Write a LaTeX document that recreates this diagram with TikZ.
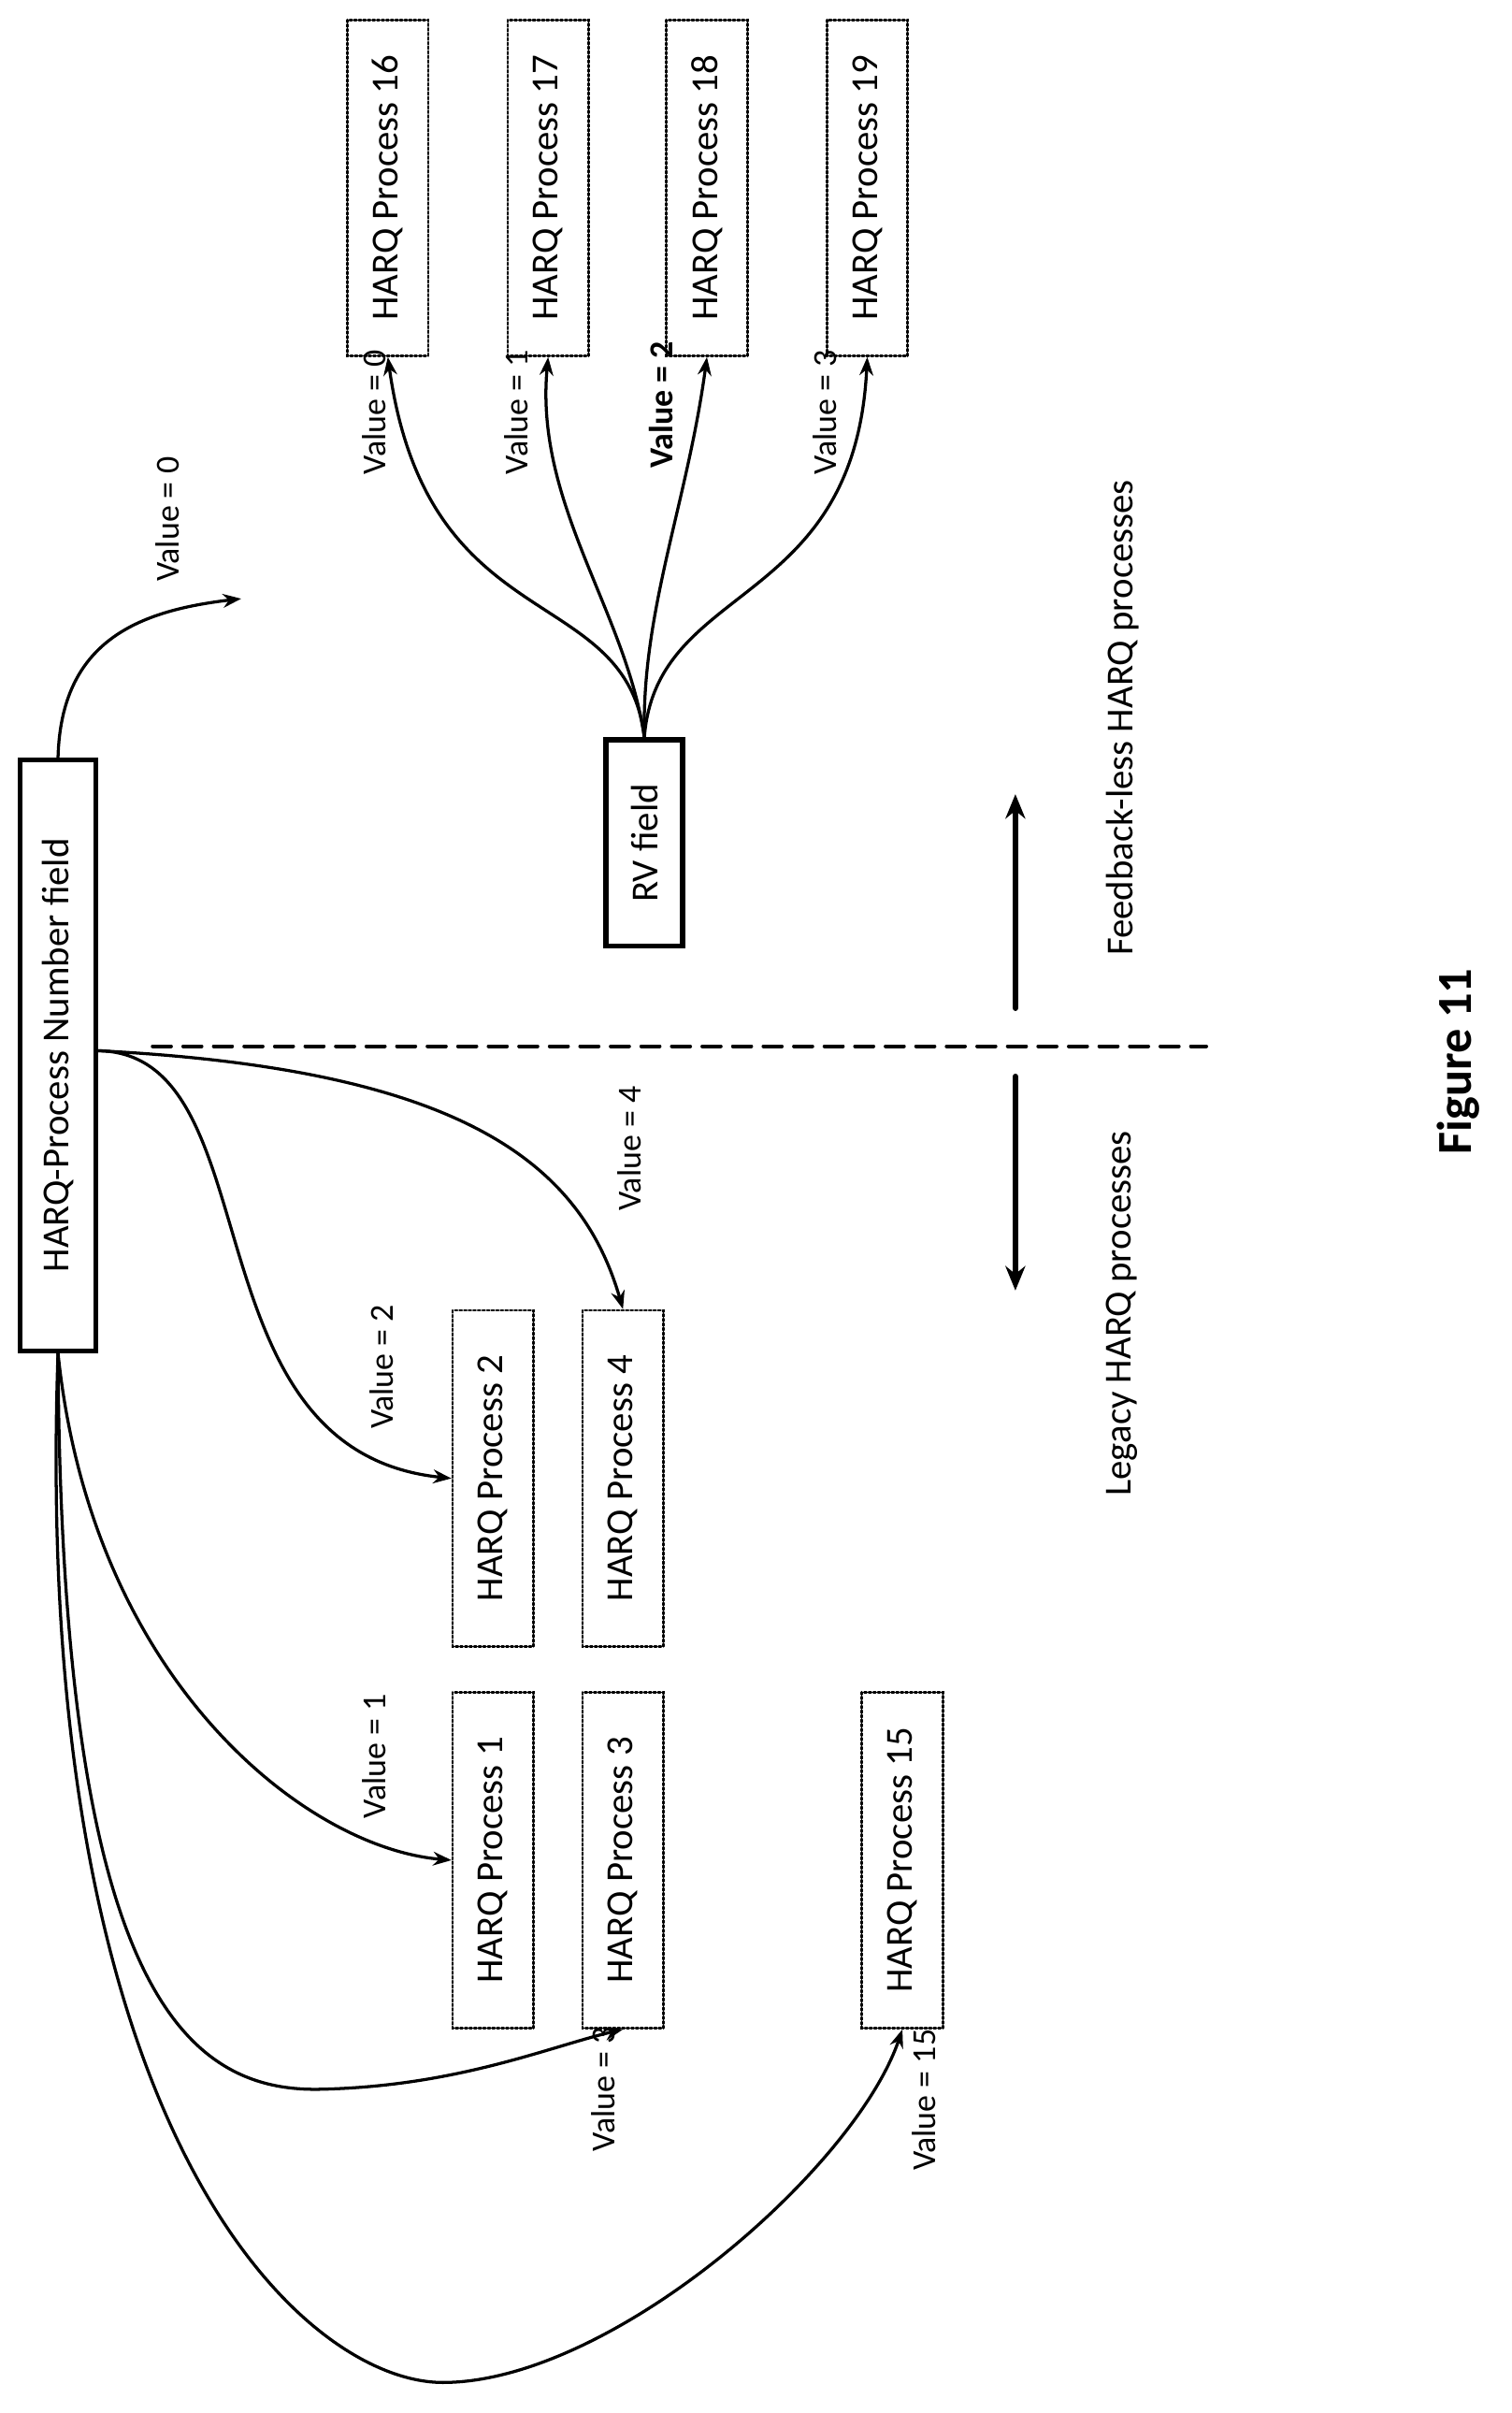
\documentclass[tikz,border=0pt]{standalone}
\usepackage{fontspec}
\setmainfont{Carlito}
\usetikzlibrary{arrows.meta,positioning}

\begin{document}
\begin{tikzpicture}[
    x=1pt,y=1pt,
    line cap=round,
    %styles
    harq/.style={draw,line width=1.6pt,dash pattern=on 1.5pt off 1.5pt,rotate=90,minimum width=220pt,minimum height=53pt,inner sep=0pt,font=\fontsize{25}{30}\selectfont},
    field/.style={draw,line width=3pt,rotate=90,minimum height=50pt,inner sep=6pt,font=\fontsize{25}{30}\selectfont},
    vlabel/.style={rotate=90,font=\fontsize{22}{26}\selectfont},
    link/.style={line width=2pt,-{Stealth[length=12pt,width=9pt]}},
  ]
  \useasboundingbox (0,0) rectangle (990,-1580);

  %fields
  \node[field,minimum width=387pt] (hpn) at (38,-691) {HARQ-Process Number field};
  \node[field,minimum width=135pt,line width=3.5pt] (rv) at (422,-552) {RV field};

  %legacy processes
  \node[harq] (p1) at (323,-1218) {HARQ Process 1};
  \node[harq] (p2) at (323,-968) {HARQ Process 2};
  \node[harq] (p3) at (408,-1218) {HARQ Process 3};
  \node[harq] (p4) at (408,-968) {HARQ Process 4};
  \node[harq] (p15) at (591,-1218) {HARQ Process 15};

  %feedback-less processes
  \foreach \n/\x in {16/254,17/359,18/463,19/568}
    \node[harq] (p\n) at (\x,-123) {HARQ Process \n};

  \coordinate (v0end) at (158,-392);
  \coordinate (hpnside) at ([yshift=3pt]hpn.south);
  \draw[link] (hpn.east) .. controls (40,-420) and (90,-400) .. (v0end);
  \draw[link] (hpnside) .. controls (180,-690) and (120,-950) .. (p2.north);
  \draw[link] (hpnside) .. controls (300,-700) and (380,-760) .. (p4.east);
  \draw[link] (hpn.west) .. controls (60,-1100) and (200,-1210) .. (p1.north);
  \draw[link] (hpn.west) .. controls (40,-1300) and (120,-1370) .. (210,-1368) .. controls (300,-1366) and (360,-1340) .. (p3.west);
  \draw[link] (hpn.west) .. controls (20,-1400) and (200,-1560) .. (290,-1560) .. controls (400,-1560) and (560,-1420) .. (p15.west);

  %RV links
  \draw[link] (rv.east) .. controls (410,-380) and (280,-420) .. (p16.west);
  \draw[link] (rv.east) .. controls (410,-400) and (350,-330) .. (p17.west);
  \draw[link] (rv.east) .. controls (420,-400) and (450,-330) .. (p18.west);
  \draw[link] (rv.east) .. controls (430,-380) and (560,-400) .. (p19.west);

  %value labels
  \node[vlabel] (l0) at (110,-340) {Value = 0};
  \node[vlabel] (l1) at (245,-1150) {Value = 1};
  \node[vlabel] (l2) at (250,-895) {Value = 2};
  \node[vlabel] (l3) at (395,-1368) {Value = 3};
  \node[vlabel] (l4) at (412,-752) {Value = 4};
  \node[vlabel] (l15) at (605,-1375) {Value = 15};
  \node[vlabel] (r0) at (245,-270) {Value = 0};
  \node[vlabel] (r1) at (338,-270) {Value = 1};
  \node[vlabel,font=\fontsize{22}{26}\selectfont\bfseries] (r2) at (433,-265) {Value = 2};
  \node[vlabel] (r3) at (540,-270) {Value = 3};

  %divider
  \coordinate (dtop) at (100,-685);
  \coordinate (dbot) at (790,-685);
  \draw[line width=2.5pt,dash pattern=on 12pt off 8pt] (dtop) -- (dbot);
  \coordinate (fa) at (665,-660);
  \coordinate (fb) at (665,-520);
  \coordinate (la) at (665,-705);
  \coordinate (lb) at (665,-845);
  \draw[line width=4pt,-{Stealth[length=16pt,width=13pt]}] (fa) -- (fb);
  \draw[line width=4pt,-{Stealth[length=16pt,width=13pt]}] (la) -- (lb);
  \node[vlabel,font=\fontsize{25}{30}\selectfont] (fbl) at (735,-470) {Feedback-less HARQ processes};
  \node[vlabel,font=\fontsize{25}{30}\selectfont] (leg) at (735,-860) {Legacy HARQ processes};
  \node[vlabel,font=\fontsize{32}{38}\selectfont\bfseries] (fig) at (955,-695) {Figure 11};
\end{tikzpicture}
\end{document}
